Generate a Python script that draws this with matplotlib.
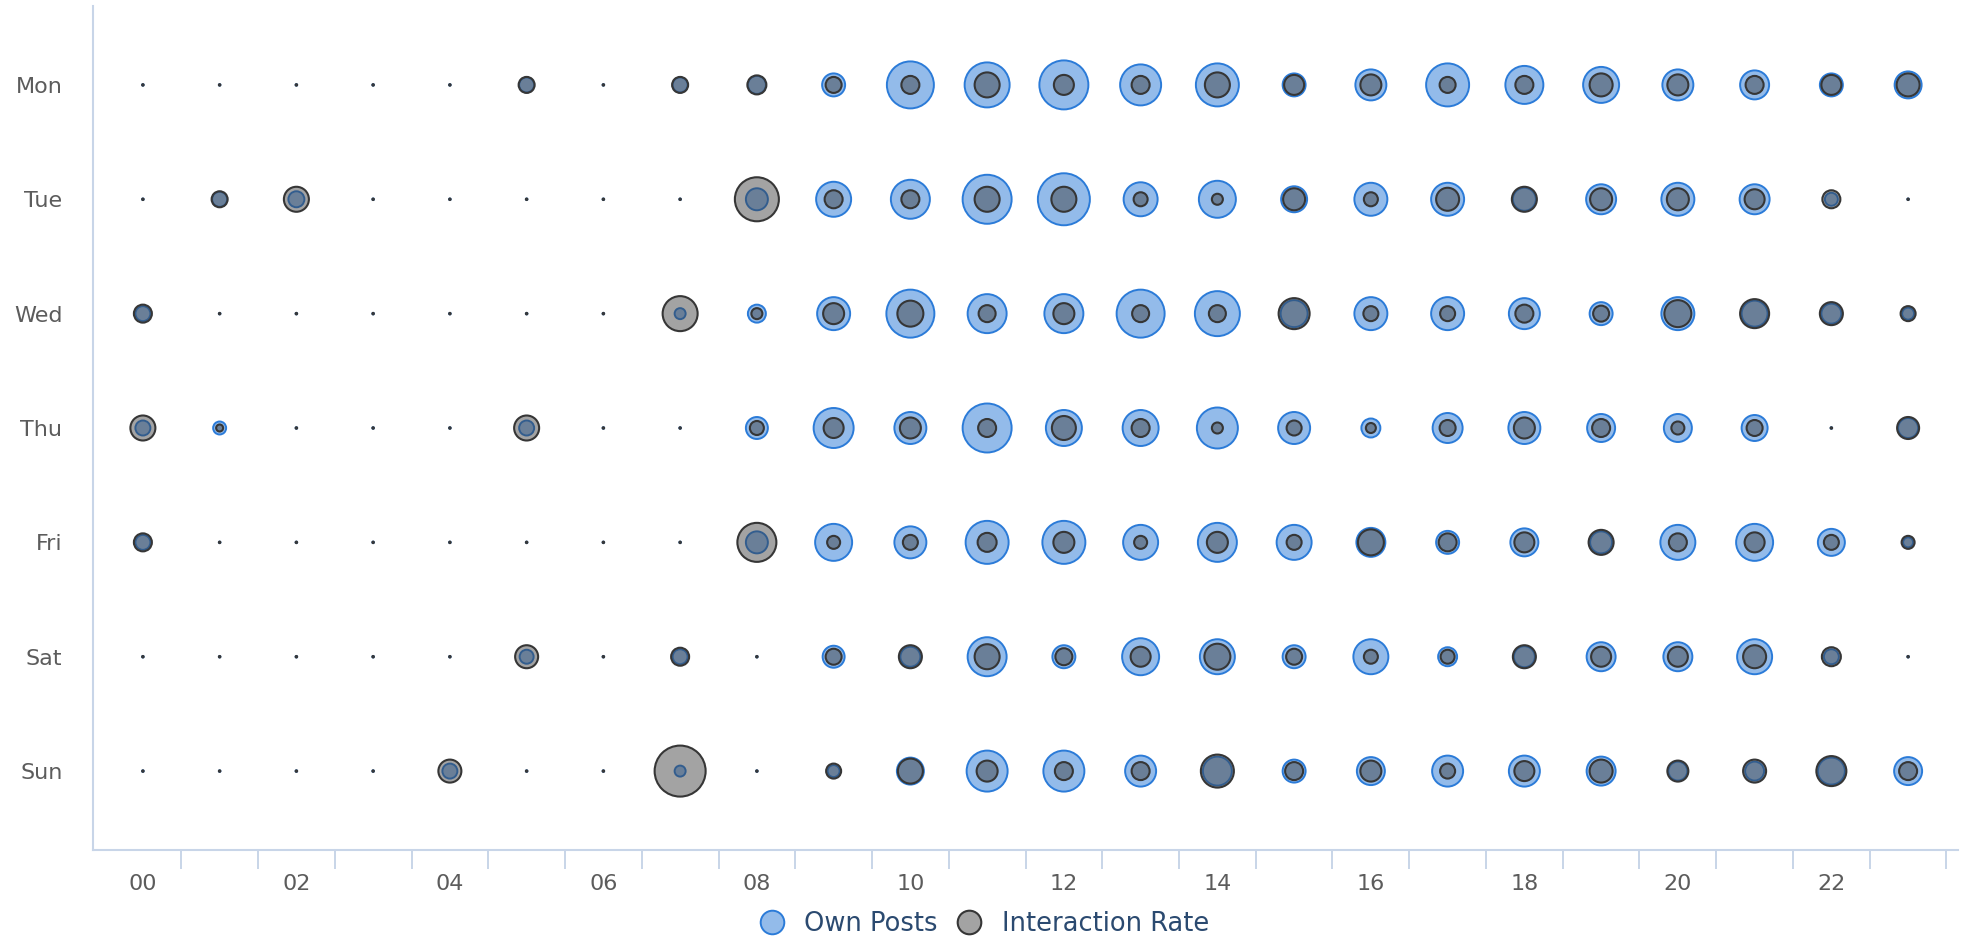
import numpy as np
import matplotlib
matplotlib.use("Agg")
import matplotlib.pyplot as plt
from matplotlib.lines import Line2D

# 曜日と時間
days = ["Mon", "Tue", "Wed", "Thu", "Fri", "Sat", "Sun"]
hours = ["%02d" % h for h in range(24)]

# バブルの大きさ (Own Posts)
own_posts = [
    [0, 0, 0, 0, 0, 17, 0, 17, 20, 25, 49, 47, 51, 43, 45, 25, 33, 45, 40, 38, 33, 31, 25, 29],
    [0, 17, 18, 0, 0, 0, 0, 0, 24, 37, 41, 51, 54, 36, 39, 28, 35, 35, 25, 32, 35, 32, 15, 0],
    [17, 0, 0, 0, 0, 0, 0, 13, 20, 35, 50, 41, 41, 50, 47, 29, 35, 35, 33, 25, 35, 28, 22, 14],
    [17, 15, 0, 0, 0, 17, 0, 0, 24, 42, 34, 51, 38, 38, 43, 34, 21, 32, 34, 30, 30, 28, 0, 22],
    [17, 0, 0, 0, 0, 0, 0, 0, 24, 39, 34, 45, 45, 37, 41, 37, 31, 25, 30, 24, 37, 39, 29, 12],
    [0, 0, 0, 0, 0, 16, 0, 17, 0, 24, 22, 41, 25, 39, 37, 25, 37, 21, 23, 31, 31, 37, 17, 0],
    [0, 0, 0, 0, 17, 0, 0, 13, 0, 14, 29, 43, 43, 33, 31, 25, 30, 33, 33, 31, 21, 21, 29, 30],
]

# バブルの大きさ (Interaction Rate)
interaction_rate = [
    [0, 0, 0, 0, 0, 18, 0, 18, 21, 18, 20, 27, 22, 20, 27, 22, 23, 18, 20, 25, 23, 20, 22, 25],
    [0, 18, 27, 0, 0, 0, 0, 0, 46, 20, 20, 27, 27, 16, 13, 24, 16, 25, 27, 24, 24, 22, 20, 0],
    [20, 0, 0, 0, 0, 0, 0, 37, 13, 23, 28, 19, 23, 19, 19, 33, 17, 17, 20, 18, 29, 31, 25, 17],
    [27, 9, 0, 0, 0, 27, 0, 0, 16, 22, 23, 20, 26, 20, 13, 17, 12, 18, 23, 20, 15, 18, 0, 24],
    [20, 0, 0, 0, 0, 0, 0, 0, 41, 15, 17, 21, 23, 15, 23, 17, 28, 20, 22, 27, 20, 22, 17, 15],
    [0, 0, 0, 0, 0, 25, 0, 20, 0, 18, 25, 27, 19, 22, 28, 18, 16, 16, 25, 22, 22, 25, 21, 0],
    [0, 0, 0, 0, 25, 0, 0, 53, 0, 17, 27, 23, 20, 20, 35, 20, 23, 17, 22, 25, 23, 25, 32, 20],
]

blue_face = "#93bbea"
blue_edge = "#2b7bd8"
gray_face = (0.235, 0.235, 0.235, 0.47)
gray_edge = "#363636"
axis_color = "#c8d5e8"


def to_area(values, lw_px):
    # 直径(px) -> scatterの面積(pt^2)
    d = np.array(values, dtype=float) - lw_px
    d = np.where(np.array(values) <= 0, 1.5, np.maximum(d, 1.5))
    return (d * 72.0 / 100.0) ** 2


fig = plt.figure(figsize=(19.68, 9.40), dpi=100)
ax = fig.add_axes([93 / 1968, 90 / 940, (1958 - 93) / 1968, (850 - 6) / 940])

xs, ys = np.meshgrid(np.arange(24), np.arange(7))
ys = 6 - ys  # Mon を上に

ax.scatter(xs.ravel(), ys.ravel(), s=to_area(np.ravel(own_posts), 2),
           facecolor=blue_face, edgecolor=blue_edge, linewidths=1.4, zorder=2)
ax.scatter(xs.ravel(), ys.ravel(), s=to_area(np.ravel(interaction_rate), 2),
           facecolor=gray_face, edgecolor=gray_edge, linewidths=1.5, zorder=3)

ax.set_xlim(-0.65, 23.65)
ax.set_ylim(-0.69, 6.69)

# 軸の体裁
for side in ["top", "right"]:
    ax.spines[side].set_visible(False)
for side in ["left", "bottom"]:
    ax.spines[side].set_color(axis_color)
    ax.spines[side].set_linewidth(1.5)

ax.set_yticks(range(7))
ax.set_yticklabels(days[::-1])
ax.tick_params(axis="y", length=0, pad=22, labelsize=16, labelcolor="#5c5c5c")

ax.set_xticks(range(0, 24, 2))
ax.set_xticklabels(hours[::2])
ax.set_xticks(np.arange(0.5, 24, 1), minor=True)
ax.tick_params(axis="x", which="major", length=0, pad=17, labelsize=16,
               labelcolor="#5c5c5c")
ax.tick_params(axis="x", which="minor", length=13.5, width=1.4, color=axis_color)

# 凡例
handles = [
    Line2D([], [], ls="", marker="o", markersize=17, markerfacecolor=blue_face,
           markeredgecolor=blue_edge, markeredgewidth=1.4),
    Line2D([], [], ls="", marker="o", markersize=17, markerfacecolor=gray_face,
           markeredgecolor=gray_edge, markeredgewidth=1.5),
]
fig.legend(handles, ["Own Posts", "Interaction Rate"], loc="center",
           bbox_to_anchor=(0.5, 16 / 940), ncol=2, frameon=False,
           fontsize=18.5, labelcolor="#2b4a70", handlelength=1.0,
           handletextpad=0.77, columnspacing=0.72)

fig.savefig("out.png", dpi=100)
